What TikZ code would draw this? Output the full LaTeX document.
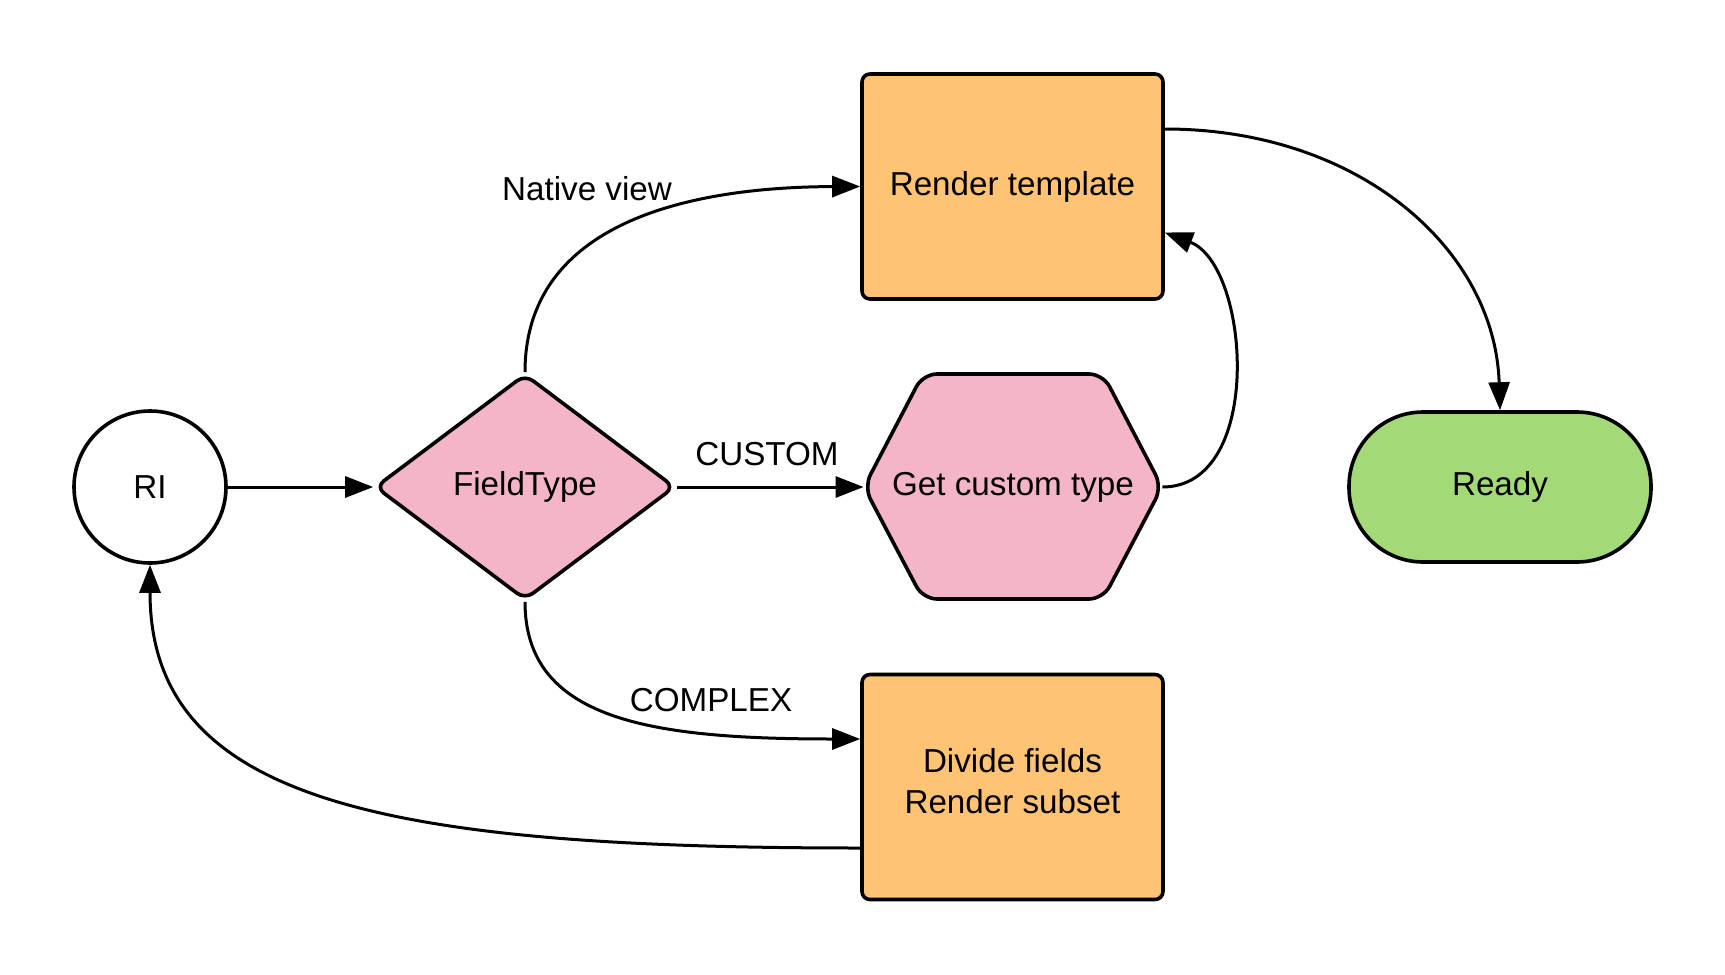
\documentclass[tikz,border=0pt]{standalone}
\usepackage{fontspec}
\setmainfont{Liberation Sans}
\usetikzlibrary{shapes.geometric,arrows.meta}
\definecolor{boxorange}{HTML}{FFC374}
\definecolor{boxpink}{HTML}{F4B6C7}
\definecolor{boxgreen}{HTML}{A3D977}
\begin{document}
\begin{tikzpicture}[x=0.5pt,y=-0.5pt,
  every node/.style={font=\fontsize{16.6}{20.5}\selectfont, inner sep=0pt},
  shapeline/.style={draw=black, line width=1.8pt},
  procbox/.style={shapeline, rectangle, rounded corners=4pt, fill=boxorange, minimum width=150.5pt, minimum height=112.5pt, align=center},
  conn/.style={line width=1.5pt, -{Triangle[length=14pt,width=10.5pt]}}
]
\useasboundingbox (0,0) rectangle (1725,975);
% nodes
\node[shapeline, circle, minimum size=76pt, fill=white] (ri) at (150,487) {RI};
\node[shapeline, diamond, minimum width=150pt, minimum height=113pt, rounded corners=5pt, fill=boxpink] (ft) at (525,487) {FieldType};
\draw[shapeline, fill=boxpink, rounded corners=7pt] (864,487) -- (923,374) -- (1103,374) -- (1162,487) -- (1103,599) -- (923,599) -- cycle;
\node[minimum width=149pt, minimum height=112.5pt] (gct) at (1013,487) {Get custom type};
\node[procbox] (rt) at (1012.5,186.5) {Render template};
\node[procbox] (df) at (1012.5,787) {};
\node (dft) at (1012.5,781.5) [align=center] {Divide fields\\Render subset};
\node[shapeline, rectangle, rounded corners=37pt, fill=boxgreen, minimum width=151pt, minimum height=75pt] (rd) at (1500,487) {Ready};
% labels
\node (lnv) at (587,189) {Native view};
\node (lcu) at (767,454) {CUSTOM};
\node (lco) at (711,700) {COMPLEX};
% connectors
\draw[conn] (ri.east) -- (ft.west);
\draw[conn] (ft.east) -- (gct.west);
\draw[conn] (ft.north) .. controls (525,222) and (690,187) .. (rt.west);
\draw[conn] (gct.east) .. controls (1265,487) and (1250,265) .. ([yshift=-23pt]rt.east);
\draw[conn] ([yshift=28.75pt]rt.east) .. controls (1360,129) and (1495,250) .. (rd.north);
\draw[conn] (ft.south) .. controls (525,720) and (650,739) .. ([yshift=24pt]df.west);
\draw[conn] ([yshift=-30.5pt]df.west) .. controls (380,848) and (150,800) .. (ri.south);
\end{tikzpicture}
\end{document}
